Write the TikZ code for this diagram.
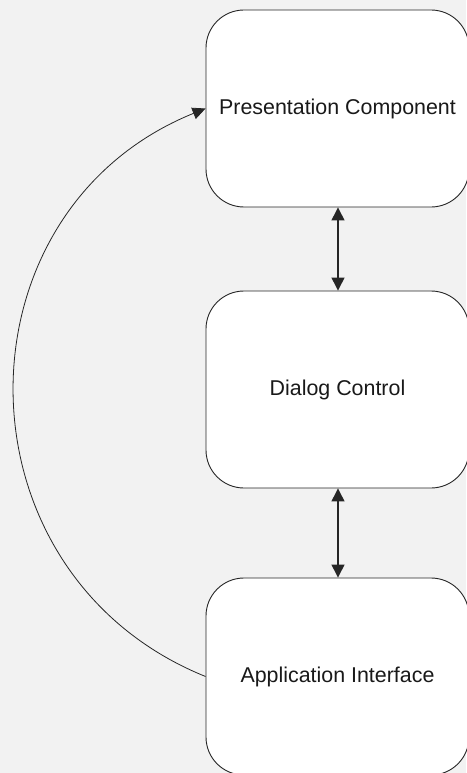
\documentclass[tikz,border=0pt]{standalone}
\usepackage{fontspec}
\setmainfont{Liberation Sans}
\usetikzlibrary{arrows.meta}
\tikzset{
  layer/.style={draw=black!85,line width=0.9pt,fill=white,rounded corners=38pt,
    minimum width=263pt,minimum height=197pt,text=black!90,
    font=\fontsize{21.4}{25}\selectfont},
  link/.style={line width=1.3pt,black!85,{Triangle[width=13pt,length=13pt]}-{Triangle[width=13pt,length=13pt]}},
  loop/.style={line width=0.8pt,black!85,-{Triangle[width=12pt,length=13pt]}}
}
\begin{document}
\begin{tikzpicture}[x=1pt,y=-1pt]
\fill[black!5](0,0)rectangle(466,773);
\useasboundingbox(0,0)rectangle(466,773);
%layers
\node[layer](pres)at(337.5,108.5){Presentation Component};
\node[layer](dlg)at(337.5,389.5){Dialog Control};
\node[layer](app)at(337.5,676.5){Application Interface};
%arrows
\draw[link](pres.south-|338,0)--(dlg.north-|338,0);
\draw[link](dlg.south-|338,0)--(app.north-|338,0);
\draw[loop](app.west)to[out=158,in=202,looseness=1.24](pres.west);
\end{tikzpicture}
\end{document}
